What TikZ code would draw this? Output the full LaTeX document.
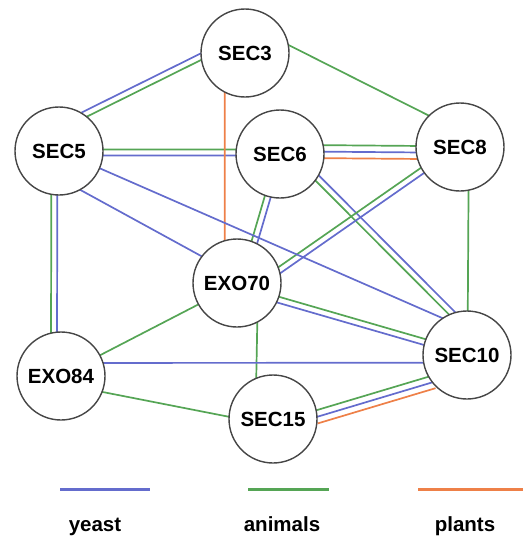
\documentclass[tikz,border=0pt]{standalone}
\usepackage{fontspec}
\setmainfont{Liberation Sans}
\usetikzlibrary{calc,backgrounds}
\definecolor{yblue}{RGB}{100,108,205}
\definecolor{agreen}{RGB}{85,165,85}
\definecolor{porange}{RGB}{238,128,72}
\definecolor{ringgray}{RGB}{70,70,70}
\newcommand\edgeoff{3pt}
\newcommand\tripoff{6.5pt}
\newcommand\pairedge[4]{%
  \draw[edgeline,#3] ($(#1)!\edgeoff!90:(#2)$) -- ($(#2)!\edgeoff!-90:(#1)$);
  \draw[edgeline,#4] ($(#1)!\edgeoff!-90:(#2)$) -- ($(#2)!\edgeoff!90:(#1)$);}
\newcommand\tripleedge[5]{%
  \draw[edgeline,#3] ($(#1)!\tripoff!90:(#2)$) -- ($(#2)!\tripoff!-90:(#1)$);
  \draw[edgeline,#4] (#1) -- (#2);
  \draw[edgeline,#5] ($(#1)!\tripoff!-90:(#2)$) -- ($(#2)!\tripoff!90:(#1)$);}
\tikzset{
  prot/.style={circle, draw=ringgray, line width=1.4pt, fill=white,
    minimum size=88pt, inner sep=0pt,
    font=\fontsize{20.5}{24}\selectfont\bfseries},
  edgeline/.style={line width=1.7pt, shorten <=-2pt, shorten >=-2pt},
  legline/.style={line width=3pt},
  legtext/.style={anchor=base, font=\fontsize{20.5}{24}\selectfont\bfseries},
}
\begin{document}
\begin{tikzpicture}[x=1pt,y=-1pt]
\useasboundingbox (0,0) rectangle (527,538);
\node[prot] (SEC3)  at (245,53)  {SEC3};
\node[prot] (SEC5)  at (59,151)  {SEC5};
\node[prot] (SEC6)  at (280,154) {SEC6};
\node[prot] (SEC8)  at (460,147) {SEC8};
\node[prot] (EXO70) at (237,283) {EXO70};
\node[prot] (EXO84) at (61,376)  {EXO84};
\node[prot] (SEC15) at (273,419) {SEC15};
\node[prot] (SEC10) at (467,355) {SEC10};
\begin{scope}[on background layer]
  % doubles
  \pairedge{SEC5.55}{SEC3.185}{yblue}{agreen}
  \pairedge{SEC5.358}{SEC6.178}{agreen}{yblue}
  \pairedge{SEC5.264}{EXO84.99}{yblue}{agreen}
  \pairedge{SEC6.254}{EXO70.67}{yblue}{agreen}
  \pairedge{SEC6.327}{SEC10.110}{yblue}{agreen}
  \pairedge{EXO70.17}{SEC8.212}{agreen}{yblue}
  \pairedge{EXO70.338}{SEC10.163}{agreen}{yblue}
  % triples
  \tripleedge{SEC6.3}{SEC8.187}{agreen}{yblue}{porange}
  \tripleedge{SEC15.3}{SEC10.218}{agreen}{yblue}{porange}
  % singles
  \draw[edgeline,agreen] (SEC3.10) -- (SEC8.135);
  \draw[edgeline,porange] (SEC3.243) -- (EXO70.106);
  \draw[edgeline,yblue] (SEC5.337) -- (SEC10.124);
  \draw[edgeline,yblue] (SEC5.299) -- (EXO70.143);
  \draw[edgeline,agreen] (SEC8.281) -- (SEC10.89);
  \draw[edgeline,agreen] (EXO70.209) -- (EXO84.28);
  \draw[edgeline,agreen] (EXO70.297) -- (SEC15.112);
  \draw[edgeline,yblue] (EXO84.17.6) -- (SEC10.190.5);
  \draw[edgeline,agreen] (EXO84.339) -- (SEC15.177);
\end{scope}
% legend
\draw[legline,yblue] (60,489) -- (150,489);
\draw[legline,agreen] (248,489) -- (329,489);
\draw[legline,porange] (418,489) -- (523,489);
\node[legtext] (yeast) at (95,531) {yeast};
\node[legtext] (animals) at (282,531) {animals};
\node[legtext] (plants) at (465,531) {plants};
\end{tikzpicture}
\end{document}
